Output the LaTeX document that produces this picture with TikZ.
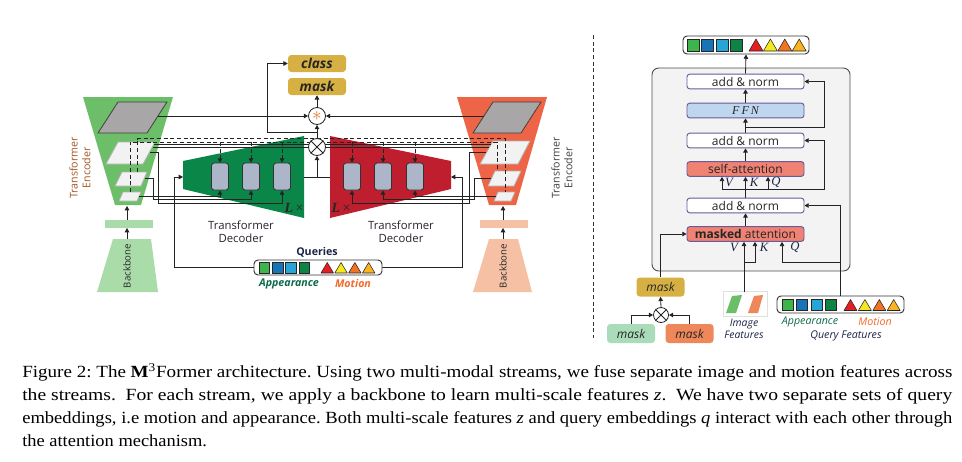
\documentclass[tikz,border=0pt]{standalone}
\usepackage{fontspec}
\setmainfont{Liberation Serif}
\newfontfamily\osans{Open Sans}
\usetikzlibrary{arrows.meta}
\pgfdeclarelayer{back}
\pgfdeclarelayer{mid}
\pgfsetlayers{back,mid,main}
\definecolor{encG}{RGB}{108,190,104}
\definecolor{decG}{RGB}{10,134,72}
\definecolor{decR}{RGB}{190,30,45}
\definecolor{encR}{RGB}{238,100,70}
\definecolor{ltG}{RGB}{170,220,170}
\definecolor{ltR}{RGB}{246,192,164}
\definecolor{pGrey}{RGB}{168,166,166}
\definecolor{pWhite}{RGB}{242,242,242}
\definecolor{blkC}{RGB}{172,182,200}
\definecolor{gold}{RGB}{214,176,66}
\definecolor{lineC}{RGB}{35,35,35}
\definecolor{sqA}{RGB}{61,181,74}
\definecolor{sqB}{RGB}{25,115,185}
\definecolor{sqC}{RGB}{40,165,215}
\definecolor{sqD}{RGB}{15,130,70}
\definecolor{trA}{RGB}{230,30,36}
\definecolor{trB}{RGB}{245,232,30}
\definecolor{trC}{RGB}{242,115,35}
\definecolor{trD}{RGB}{250,180,30}
\definecolor{appC}{RGB}{14,105,75}
\definecolor{motC}{RGB}{243,105,40}
\definecolor{navy}{RGB}{25,35,70}
\definecolor{purp}{RGB}{105,90,155}
\definecolor{ffnC}{RGB}{190,215,238}
\definecolor{attC}{RGB}{240,130,115}
\definecolor{panelC}{RGB}{243,243,243}
\definecolor{mgC}{RGB}{170,220,185}
\definecolor{moC}{RGB}{238,135,90}
\definecolor{encTxtL}{RGB}{165,85,35}
\definecolor{txtD}{RGB}{45,35,45}
\definecolor{starC}{RGB}{230,120,40}
\newcommand{\qitems}[6]{%
  \foreach \qc [count=\qi from 0] in {sqA,sqB,sqC,sqD}
    \draw[fill=\qc,draw=black!85,line width=0.4pt] ({#1+\qi*#2},#6) rectangle ++(#3,#3);
  \foreach \qc [count=\qi from 0] in {trA,trB,trC,trD}
    \draw[fill=\qc,draw=black!85,line width=0.4pt,line join=round] ({#4+\qi*#5},{#6+#3}) -- ++({#3+2},0) -- ++({-(#3+2)/2},{-#3}) -- cycle;
}
\frenchspacing
\begin{document}
\begin{tikzpicture}[x=0.75pt,y=-0.75pt,
  ln/.style={draw=lineC,line width=0.6pt},
  arr/.style={draw=lineC,line width=0.6pt,-{Triangle[length=3.2pt,width=3.4pt]}},
  dsh/.style={draw=lineC,line width=0.6pt,dash pattern=on 3pt off 2pt},
  darr/.style={dsh,-{Triangle[length=3.2pt,width=3.4pt]}},
  blk/.style={draw=black!80,fill=blkC,rounded corners=2pt,minimum width=12.75pt,minimum height=20.25pt,line width=0.6pt,inner sep=0pt},
  gbox/.style={fill=gold,rounded corners=2.5pt,minimum width=43.5pt,minimum height=12.75pt,inner sep=0pt,font=\osans\bfseries\itshape\fontsize{10.2}{11}\selectfont,text=black!85},
  omul/.style={circle,draw=lineC,fill=white,line width=0.6pt,minimum size=#1,inner sep=0pt},
  rbox/.style={draw=purp,line width=0.7pt,rounded corners=2pt,minimum width=87.75pt,minimum height=11pt,inner sep=0pt,font=\osans\fontsize{9}{10}\selectfont,text=black!85,fill=white},
  qbx/.style={draw=black!80,fill=white,line width=0.7pt,rounded corners=3pt,inner sep=0pt},
  lbl/.style={font=\osans\fontsize{8.5}{9.6}\selectfont,text=txtD,align=center},
  smk/.style={rounded corners=2.5pt,minimum width=36pt,minimum height=14.25pt,inner sep=0pt,font=\osans\itshape\fontsize{9}{10}\selectfont,text=black!85},
  vkq/.style={font=\rmfamily\itshape\fontsize{9.5}{10}\selectfont,text=navy,inner sep=0pt},
  capl/.style={anchor=base west,inner sep=0pt,font=\fontsize{12.8}{15}\selectfont}
]
\useasboundingbox (0,0) rectangle (962,461);

% ---------------- background shapes ----------------
\begin{pgfonlayer}{back}
  \fill[encG] (83,97) -- (173,97) -- (141,205) -- (115,205) -- cycle;
  \fill[ltG] (105,220) rectangle (153,228);
  \fill[ltG] (113,239) -- (151,239) -- (158,292) -- (97,292) -- cycle;
  \draw[fill=pGrey,draw=black!75,line width=0.6pt] (98,133) -- (118,102) -- (167,102) -- (147,133) -- cycle;
  \draw[fill=pWhite,draw=black!30,line width=0.6pt] (106,164) -- (118,142) -- (155,142) -- (143,164) -- cycle;
  \draw[fill=pWhite,draw=black!30,line width=0.6pt] (115,186) -- (122,172) -- (147,172) -- (141,186) -- cycle;
  \draw[fill=pWhite,draw=black!30,line width=0.6pt] (119,201) -- (123,192) -- (141,192) -- (137,201) -- cycle;
  \fill[encR] (457,97) -- (547,97) -- (516,205) -- (489,205) -- cycle;
  \fill[ltR] (480,220) rectangle (528,228);
  \fill[ltR] (489,239) -- (518,239) -- (532,292) -- (473,292) -- cycle;
  \draw[fill=pGrey,draw=black!75,line width=0.6pt] (473,133) -- (493,102) -- (541,102) -- (521,133) -- cycle;
  \draw[fill=pWhite,draw=black!30,line width=0.6pt] (480,164) -- (493,141) -- (530,141) -- (518,164) -- cycle;
  \draw[fill=pWhite,draw=black!30,line width=0.6pt] (488,186) -- (495,171) -- (521,171) -- (514,186) -- cycle;
  \draw[fill=pWhite,draw=black!30,line width=0.6pt] (494,201) -- (498,192) -- (515,192) -- (511,201) -- cycle;
  \fill[decG] (183,161) -- (304,136) -- (304,218) -- (183,189) -- cycle;
  \fill[decR] (330,136) -- (451,161) -- (451,189) -- (330,218) -- cycle;
  \draw[fill=panelC,draw=black!70,line width=0.7pt,rounded corners=5pt] (652,68) rectangle (850,271);
  \draw[fill=white,draw=black!12,line width=0.5pt] (723,291) rectangle (767,316);
\end{pgfonlayer}

% ---------------- nodes ----------------
\node[blk] (g1) at (220,176.5) {};
\node[blk] (g2) at (251,176.5) {};
\node[blk] (g3) at (282,176.5) {};
\node[blk] (r1) at (352,176.5) {};
\node[blk] (r2) at (383,176.5) {};
\node[blk] (r3) at (415,176.5) {};

\node[gbox] (cls) at (317,63.5) {class};
\node[gbox] (msk) at (317,86.5) {mask};
\node[omul=12.75pt] (star) at (317,116) {\fontsize{15}{15}\selectfont\color{starC}$\ast$};
\node[omul=12.75pt] (otimes) at (317,147) {};
\draw[lineC,line width=0.6pt] (otimes.north west) -- (otimes.south east) (otimes.north east) -- (otimes.south west);

\node[rotate=90,font=\osans\fontsize{8}{9.6}\selectfont,text=encTxtL,align=center] (encLlab) at (80,168) {Transformer\\Encoder};
\node[rotate=90,font=\osans\fontsize{8}{9.6}\selectfont,text=black!75,align=center] (encRlab) at (562,168) {Transformer\\Encoder};
\node[rotate=90,font=\osans\fontsize{7.2}{8}\selectfont,text=black!85] (bbLlab) at (127,266) {Backbone};
\node[rotate=90,font=\osans\fontsize{7.2}{8}\selectfont,text=black!85] (bbRlab) at (503,266) {Backbone};

\node[lbl] (decLlab) at (241,232) {Transformer\\Decoder};
\node[lbl] (decRlab) at (401,232) {Transformer\\Decoder};
\node[font=\rmfamily\fontsize{10.5}{11}\selectfont,text=black!85,inner sep=0pt] (lxL) at (294,207.5) {\textbf{\textit{L}}\,×};
\node[font=\rmfamily\fontsize{10.5}{11}\selectfont,text=black!85,inner sep=0pt] (lxR) at (341,207.5) {\textbf{\textit{L}}\,×};

\node[font=\osans\bfseries\fontsize{8}{9}\selectfont,text=navy] (qlab) at (317,252) {Queries};
\node[qbx,minimum width=96pt,minimum height=11.25pt] (qbox) at (318,267.5) {};
\qitems{259}{13.3}{10.5}{321}{13.8}{262.5}
\node[font=\osans\bfseries\itshape\fontsize{8}{9}\selectfont,text=appC] (appL) at (289,283.5) {Appearance};
\node[font=\osans\bfseries\itshape\fontsize{8}{9}\selectfont,text=motC] (motL) at (353,283.5) {Motion};

% right panel nodes
\node[qbx,minimum width=94.5pt,minimum height=13.5pt] (outb) at (746,45) {};
\qitems{687}{14.4}{12}{749}{14.4}{39}
\node[rbox] (an1) at (745.5,81.5) {add \& norm};
\node[rbox,fill=ffnC] (ffn) at (745.5,110.5) {\rmfamily\itshape F\,F\,N};
\node[rbox] (an2) at (745.5,140.5) {add \& norm};
\node[rbox,fill=attC] (sa) at (745.5,169) {self-attention};
\node[rbox] (an3) at (745.5,205.5) {add \& norm};
\node[rbox,fill=attC] (ma) at (745.5,234) {\textbf{masked} attention};
\node[vkq] at (729,182.5) {V};
\node[vkq] at (754,182.5) {K};
\node[vkq] at (776,182.5) {Q};
\node[vkq] at (734,247) {V};
\node[vkq] at (764,247) {K};
\node[vkq] at (795,247) {Q};

\node[smk,fill=gold] (mg) at (660.5,287) {mask};
\node[omul=11.25pt] (om) at (661,315) {};
\draw[lineC,line width=0.6pt] (om.north west) -- (om.south east) (om.north east) -- (om.south west);
\node[smk,fill=mgC] (mgr) at (631,333.5) {mask};
\node[smk,fill=moC] (mor) at (689.5,333.5) {mask};

\fill[encG] (726,313) -- (732,296) -- (742,295) -- (736,313) -- cycle;
\fill[moC] (748,313) -- (754,296) -- (763,295) -- (758,313) -- cycle;
\node[font=\osans\itshape\fontsize{7.8}{9.4}\selectfont,text=navy,align=center] (imgf) at (744,329) {Image\\Features};

\node[qbx,minimum width=95.25pt,minimum height=12.75pt] (qf) at (840.5,304.5) {};
\qitems{782}{14.4}{11}{844}{14.4}{299.5}
\node[font=\osans\itshape\fontsize{8}{9}\selectfont,text=appC] (appR) at (810,322) {Appearance};
\node[font=\osans\itshape\fontsize{8}{9}\selectfont,text=motC] (motR) at (875,322) {Motion};
\node[font=\osans\itshape\fontsize{8}{9}\selectfont,text=navy] (qfl) at (846,336) {Query Features};

% ---------------- connectors ----------------
\begin{pgfonlayer}{mid}
  \coordinate (bbLt) at (127,239); \coordinate (barLb) at (127,228);
  \coordinate (barLt) at (127,220); \coordinate (encLb) at (127,206);
  \coordinate (bbRt) at (503,239); \coordinate (barRb) at (503,228);
  \coordinate (barRt) at (503,220); \coordinate (encRb) at (503,206);
  \draw[arr] (bbLt) -- (barLb); \draw[arr] (barLt) -- (encLb);
  \draw[arr] (bbRt) -- (barRb); \draw[arr] (barRt) -- (encRb);

  \coordinate (gpL) at (158,116); \coordinate (gpR) at (484,116);
  \draw[arr] (gpL) -- (star.west);
  \draw[arr] (gpR) -- (star.east);
  \draw[arr] (otimes.north) -- (star.south);
  \draw[arr] (star.north) -- (msk.south);
  \coordinate (jl) at (317,132);
  \draw[arr] (jl) -- (267,132) -- (267,63.5) -- (cls.west);

  \coordinate (p2Lt) at (137,172); \coordinate (p3Rt) at (505,192);
  \coordinate (p3Lt) at (130,192); \coordinate (p2Rt) at (497,171);
  \draw[dsh] (p2Lt) -- (137,138.5) -- (505,138.5) -- (p3Rt);
  \draw[dsh] (p3Lt) -- (130,142) -- (497,142) -- (p2Rt);
  \coordinate (d2) at (0,142);
  \foreach \b in {g1,g2,g3,r1,r2,r3} \draw[darr] (\b.north |- d2) -- (\b.north);

  \coordinate (p1La) at (154,144.5); \coordinate (p1Ra) at (490.5,144.5);
  \coordinate (p1Lb) at (152.5,147.5); \coordinate (p1Rb) at (489,147.5);
  \draw[ln] (p1La) -- (p1Ra);
  \draw[ln] (p1Lb) -- (p1Rb);

  \coordinate (p1Lr) at (150,152); \coordinate (p2Lr) at (145,178); \coordinate (p3Lr) at (139,196);
  \draw[arr] (p3Lr) -- (p3Lr -| g1.south) -- (g1.south);
  \draw[arr] (p2Lr) -- (153,178) -- (153,199.5) -- (251,199.5) -- (g2.south);
  \draw[arr] (p1Lr) -- (158,152) -- (158,203) -- (282,203) -- (g3.south);
  \coordinate (p1Rl) at (486,152); \coordinate (p2Rl) at (491,178); \coordinate (p3Rl) at (496,196);
  \draw[arr] (p3Rl) -- (p3Rl -| r3.south) -- (r3.south);
  \draw[arr] (p2Rl) -- (474,178) -- (474,199.5) -- (383,199.5) -- (r2.south);
  \draw[arr] (p1Rl) -- (469,152) -- (469,203) -- (352,203) -- (r1.south);

  \coordinate (gIn) at (183,177); \coordinate (rIn) at (451,177);
  \draw[arr] (qbox.west) -- (174,267.5) -- (174,177) -- (gIn);
  \draw[arr] (qbox.east) -- (462,267.5) -- (462,177) -- (rIn);

  \coordinate (gOut) at (304,177); \coordinate (rOut) at (330,177);
  \draw[ln] (gOut) -- (rOut);
  \draw[arr] (otimes.south |- gOut) -- (otimes.south);

  \coordinate (sepT) at (593,35); \coordinate (sepB) at (593,338);
  \draw[dsh,draw=black!80] (sepT) -- (sepB);

  \draw[arr] (an1.north) -- (outb.south);
  \draw[arr] (ffn.north) -- (an1.south);
  \draw[arr] (an2.north) -- (ffn.south);
  \coordinate (j2) at (745.5,127);
  \draw[arr] (j2) -- (824,127) -- (824,81.5) -- (an1.east);
  \draw[arr] (sa.north) -- (an2.south);
  \coordinate (j3) at (745.5,189); \coordinate (vS) at (722,189); \coordinate (qS) at (768,189);
  \draw[ln] (an3.north) -- (j3);
  \draw[ln] (vS) -- (qS);
  \draw[arr] (vS) -- (vS |- sa.south);
  \draw[arr] (j3) -- (sa.south);
  \draw[arr] (qS) -- (qS |- sa.south);
  \draw[arr] (qS) -- (824,189) -- (824,140.5) -- (an2.east);
  \draw[arr] (ma.north) -- (an3.south);
  \draw[arr] (qf.north) -- (qf.north |- an3.east) -- (an3.east);
  \coordinate (qj) at (840.5,262); \coordinate (qIn) at (782,262);
  \draw[arr] (qj) -- (qIn) -- (qIn |- ma.south);
  \coordinate (imgT) at (744,292); \coordinate (kj) at (744,262); \coordinate (kIn) at (755,262);
  \draw[arr] (imgT) -- (imgT |- ma.south);
  \draw[arr] (kj) -- (kIn) -- (kIn |- ma.south);
  \draw[arr] (mg.north) -- (mg.north |- ma.west) -- (ma.west);
  \draw[arr] (om.north) -- (mg.south);
  \draw[arr] (mgr.north) -- (mgr.north |- om.west) -- (om.west);
  \draw[arr] (mor.north) -- (mor.north |- om.east) -- (om.east);
\end{pgfonlayer}

% ---------------- caption ----------------
\node[capl] (c1) at (22,377) {\resizebox{697.5pt}{\height}{Figure 2: The \textbf{M}\textsuperscript{3}Former architecture. Using two multi-modal streams, we fuse separate image and motion features across}};
\node[capl] (c2) at (22,400) {\resizebox{697.5pt}{\height}{the streams.\ \ For each stream, we apply a backbone to learn multi-scale features \textit{z}.\ \ We have two separate sets of query}};
\node[capl] (c3) at (22,423) {\resizebox{697.5pt}{\height}{embeddings, i.e motion and appearance. Both multi-scale features \textit{z} and query embeddings \textit{q} interact with each other through}};
\node[capl] (c4) at (22,446) {\scalebox{1.08}[1]{the attention mechanism.}};
\end{tikzpicture}
\end{document}
